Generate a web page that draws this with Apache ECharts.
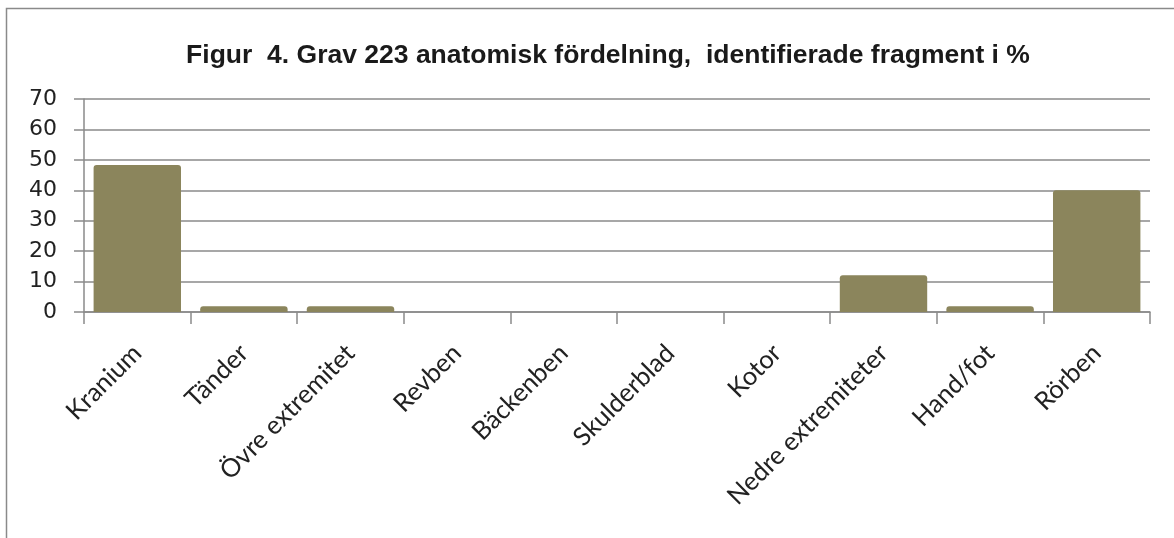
<!DOCTYPE html>
<html>
<head>
<meta charset="utf-8">
<script src="https://cdn.jsdelivr.net/npm/echarts@6/dist/echarts.min.js"></script>
<style>
html,body{margin:0;padding:0;background:#fff;}
#chart{width:1174px;height:538px;}
</style>
</head>
<body>
<div id="chart"></div>
<script>
const titleText = 'Figur  4. Grav 223 anatomisk fördelning,  identifierade fragment i %';
const categories = ['Kranium', 'Tänder', 'Övre extremitet', 'Revben', 'Bäckenben', 'Skulderblad', 'Kotor', 'Nedre extremiteter', 'Hand/fot', 'Rörben'];
const values = [48.3, 1.9, 1.9, 0, 0, 0, 0, 12.1, 1.9, 40];
const yTicks = { min: 0, max: 70, interval: 10 };

const chart = echarts.init(document.getElementById('chart'));
chart.setOption({
  backgroundColor: '#ffffff',
  animation: false,
  title: {
    text: titleText,
    left: 603, top: 37, textAlign: 'center',
    textStyle: { fontFamily: '"Liberation Sans", Arial, sans-serif', fontWeight: 'bold', fontSize: 26.5, color: '#1a1a1a' }
  },
  graphic: [{
    type: 'rect', shape: { x: 6.5, y: 8.5, width: 1200, height: 600 },
    style: { fill: 'none', stroke: '#8a8a8a', lineWidth: 1.5 }, silent: true, z: -1
  }],
  grid: { left: 84, right: 24, top: 99, bottom: 226, containLabel: false },
  xAxis: {
    type: 'category', data: categories,
    axisLine: { show: true, lineStyle: { color: '#8a8a8a', width: 1.5 } },
    axisTick: { show: true, alignWithLabel: false, length: 12, lineStyle: { color: '#8a8a8a', width: 1.5 } },
    axisLabel: { rotate: 45, margin: 37, fontFamily: 'Lato, "Open Sans", sans-serif', fontSize: 25.5, color: '#222222', interval: 0 }
  },
  yAxis: {
    type: 'value', min: yTicks.min, max: yTicks.max, interval: yTicks.interval,
    axisLine: { show: true, lineStyle: { color: '#8a8a8a', width: 1.5 } },
    axisTick: { show: true, length: 10, lineStyle: { color: '#8a8a8a', width: 1.5 } },
    axisLabel: { margin: 27, fontFamily: '"DejaVu Sans", Verdana, sans-serif', fontSize: 22, color: '#222222' },
    splitLine: { show: true, lineStyle: { color: '#8a8a8a', width: 1.5 } }
  },
  series: [{
    type: 'bar', data: values, barWidth: '82%',
    itemStyle: { color: '#8b855c', borderRadius: [3, 3, 0, 0] }
  }]
});
</script>
</body>
</html>
